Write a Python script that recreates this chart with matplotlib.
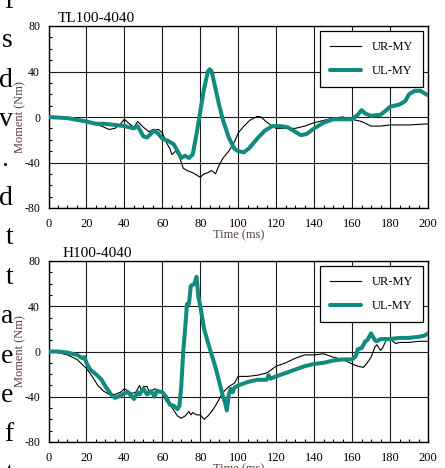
import matplotlib
matplotlib.use("Agg")
import matplotlib.pyplot as plt
from matplotlib.ticker import MultipleLocator

plt.rcParams['font.family'] = ['Liberation Serif', 'DejaVu Serif']
plt.rcParams['axes.unicode_minus'] = False

# ---- data: top panel TL100-4040 ----
t1_ul = [0, 10, 20, 25, 30, 35, 40, 45, 47, 50, 52, 55, 56, 58, 60, 63, 66, 68, 70, 72, 74, 76, 78,
         80, 82, 84, 85, 86, 88, 90, 92, 95, 98, 100, 103, 106, 110, 114, 118, 122, 126, 130, 133,
         136, 140, 145, 150, 155, 160, 163, 165, 167, 170, 175, 178, 180, 185, 188, 190, 193, 196, 200]
m1_ul = [0, -1, -4, -6, -6, -7, -8, -10, -8, -17, -18, -13, -12, -15, -19, -21, -24, -30, -36, -34, -36, -33, -15,
         5, 25, 40, 42, 40, 25, 10, -3, -18, -28, -30, -31, -27, -19, -12, -8, -8, -9, -13, -16,
         -15, -10, -5, -2, -2, -2, 2, 6, 3, 1, 2, 6, 9, 11, 14, 20, 23, 23, 19]
t1_ur = [0, 10, 20, 28, 32, 35, 38, 40, 42, 45, 47, 50, 53, 55, 58, 60, 62, 64, 65, 67, 69, 71, 73,
         76, 80, 82, 84, 86, 88, 90, 92, 95, 98, 100, 103, 106, 110, 112, 114, 117, 120, 125, 130,
         135, 140, 145, 150, 155, 160, 165, 170, 175, 180, 190, 200]
m1_ur = [0, -1, -4, -8, -11, -10, -6, -2, -5, -9, -4, -9, -13, -11, -11, -14, -22, -28, -33, -30, -35, -45, -47,
         -49, -53, -50, -49, -47, -50, -42, -36, -30, -22, -14, -8, -3, 0.5, 0, -3, -7, -10, -10, -10,
         -8, -5, -3, -1, 0, -2, -4, -8, -8, -7, -7, -6]

# ---- data: bottom panel H100-4040 ----
t2_ul = [0, 5, 10, 15, 18, 19, 20, 22, 25, 28, 30, 33, 35, 38, 40, 42, 44, 45, 47, 48, 50, 52, 54, 56, 57,
         60, 62, 64, 66, 68, 69, 70, 71, 72, 73, 74, 75, 77, 78, 79, 80, 82, 84, 86, 88, 90, 92, 93, 94,
         95, 96, 97, 98, 100, 105, 110, 115, 116, 117, 120, 125, 130, 135, 140, 145, 150, 155, 160, 162,
         163, 165, 167, 168, 170, 172, 173, 175, 180, 185, 190, 195, 198, 200]
m2_ul = [0, 0, -1, -3, -6, -5, -10, -16, -20, -25, -31, -38, -41, -39, -37, -36, -40, -42, -36, -38, -33, -38, -35, -40, -35,
         -36, -40, -47, -48, -51, -48, -30, 0, 20, 42, 42, 58, 60, 66, 48, 40, 20, 8, -3, -14, -27, -40, -45, -52,
         -38, -33, -36, -32, -30, -27, -25, -25, -21, -24, -22, -19, -16, -13, -11, -10, -8, -7, -7, -4,
         2, 3, 9, 10, 16, 10, 9, 11, 11, 12, 12, 13, 14, 16]
t2_ur = [0, 5, 10, 15, 20, 23, 26, 29, 32, 35, 38, 40, 42, 44, 46, 48, 49, 50, 52, 53, 56, 58, 60, 62, 64,
         66, 68, 70, 72, 74, 75, 76, 78, 80, 82, 84, 86, 88, 90, 92, 95, 98, 100, 105, 110, 115, 120,
         125, 130, 135, 140, 145, 150, 155, 160, 163, 166, 168, 170, 172, 173, 175, 176, 178, 180, 183,
         185, 190, 195, 200]
m2_ur = [0, -1, -3, -7, -15, -22, -30, -35, -38, -38, -36, -33, -35, -37, -36, -30, -35, -31, -31, -36, -33, -34, -37, -44, -47,
         -52, -57, -59, -57, -53, -56, -54, -56, -56, -60, -57, -53, -48, -42, -36, -31, -28, -22, -22, -21, -19, -13,
         -10, -6, -3, -3, -2, -5, -7, -11, -13, -14, -10, -5, 4, 6, 1, 3, 10, 11, 7,
         8, 8, 9, 9]

titles = ["TL100-4040", "H100-4040"]
series_labels = ["UR-MY", "UL-MY"]
xticks = [0, 20, 40, 60, 80, 100, 120, 140, 160, 180, 200]
yticks = [-80, -40, 0, 40, 80]

TEAL = '#138a7f'
LABEL_COLOR = '#5a3e3e'

W, H = 445, 468
fig = plt.figure(figsize=(W / 100, H / 100), dpi=100)

def px_axes(left, top, right, bottom):
    return fig.add_axes([left / W, 1 - bottom / H, (right - left) / W, (bottom - top) / H])

ax1 = px_axes(48.5, 26, 428, 208)
ax2 = px_axes(48.5, 261, 428, 442)

panels = [
    (ax1, t1_ur, m1_ur, t1_ul, m1_ul, titles[0], 0.025),
    (ax2, t2_ur, m2_ur, t2_ul, m2_ul, titles[1], 0.038),
]

for ax, tr, mr, tl, ml, title, tx in panels:
    ax.plot(tr, mr, color='black', lw=0.8, label=series_labels[0], zorder=3)
    ax.plot(tl, ml, color=TEAL, lw=2.9, label=series_labels[1], zorder=4,
            solid_joinstyle='round', solid_capstyle='round')
    ax.set_xlim(0, 200)
    ax.set_ylim(-80, 80)
    ax.set_xticks(xticks)
    ax.set_yticks(yticks)
    ax.xaxis.set_minor_locator(MultipleLocator(5))
    ax.yaxis.set_minor_locator(MultipleLocator(10))
    ax.tick_params(axis='both', which='both', direction='in', top=False, right=False)
    ax.tick_params(axis='both', which='major', length=0)
    ax.tick_params(axis='both', which='minor', length=2.5, width=0.8)
    ax.tick_params(axis='x', which='major', labelsize=9, pad=7)
    ax.tick_params(axis='y', which='major', labelsize=8.5, pad=6)
    ax.grid(True, which='major', color='#1a1a1a', lw=0.8)
    for sp in ax.spines.values():
        sp.set_color('black')
        sp.set_linewidth(1.0)
    ax.set_xlabel("Time (ms)", fontsize=9, color=LABEL_COLOR)
    ax.set_ylabel("Moment (Nm)", fontsize=9, color=LABEL_COLOR)
    ax.xaxis.set_label_coords(0.5, -0.115)
    ax.yaxis.set_label_coords(-0.058, 0.5)
    ax.text(tx, 1.022, title, transform=ax.transAxes, fontsize=11, va='baseline', ha='left')
    leg = ax.legend(loc='upper right', bbox_to_anchor=(0.987, 0.973), fontsize=9,
                    frameon=True, fancybox=False, borderpad=0.8, labelspacing=1.0,
                    handlelength=2.5, handletextpad=0.85, borderaxespad=0)
    leg.get_frame().set_edgecolor('black')
    leg.get_frame().set_linewidth(0.9)
    leg.get_frame().set_alpha(1)
    leg.set_zorder(10)

# fragments of the neighbouring page text on the left edge
side_letters = ["f", "s", "d", "v", ".", "d", "t", "t", "a", "e", "e", "f", "t"]
base0, step = 8, 39.4
for i, ch in enumerate(side_letters):
    y = base0 + i * step
    xr = 8 if ch == "." else 13
    fig.text(xr / W, 1 - y / H, ch, fontsize=20, ha='right', va='baseline', color='black')

fig.savefig("out.png", dpi=100)
